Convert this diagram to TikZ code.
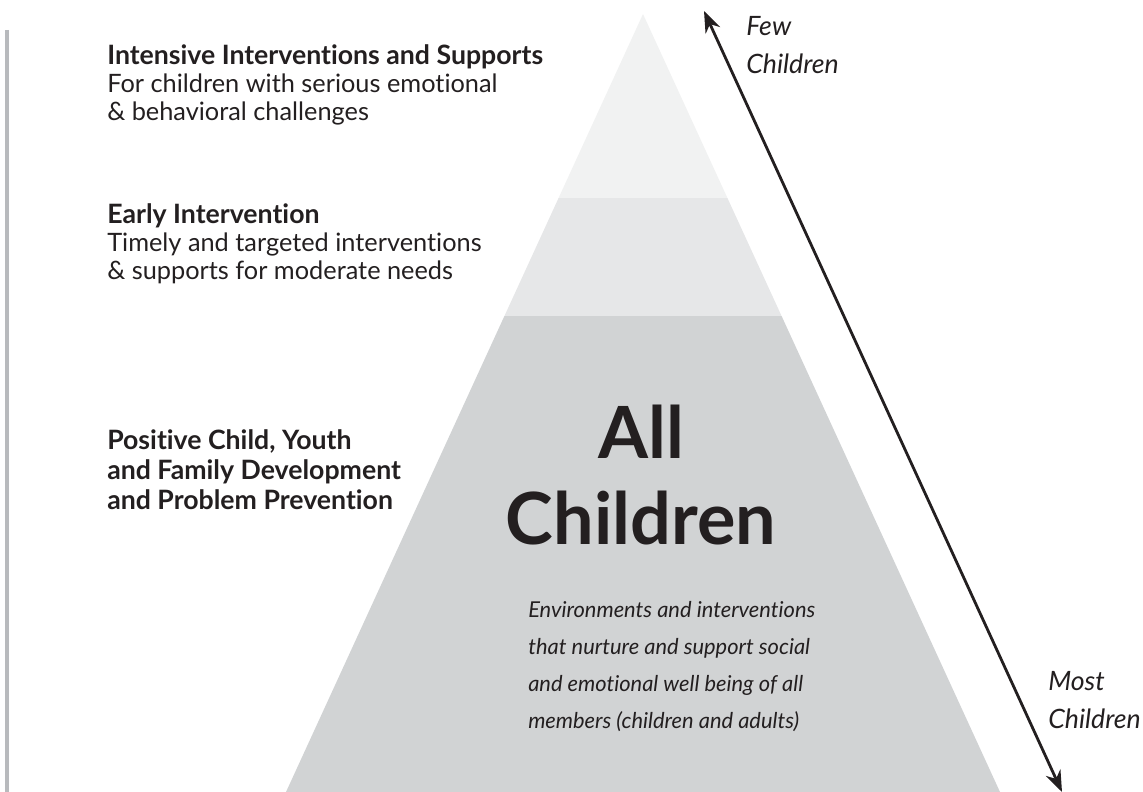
\documentclass[tikz,border=0pt]{standalone}
\usepackage{fontspec}
\setmainfont{Lato}[Ligatures=NoCommon]
\usetikzlibrary{arrows.meta}
\definecolor{ink}{HTML}{231F20}
\definecolor{tierone}{HTML}{F1F2F2}
\definecolor{tiertwo}{HTML}{E6E7E8}
\definecolor{tierthree}{HTML}{D1D3D4}
\definecolor{rule}{HTML}{B8BABD}
\newcommand\tiertitle[1]{{\fontsize{20}{21}\selectfont\bfseries #1}}
\tikzset{
	label/.style={anchor=north west,inner sep=0pt,align=left,text=ink,font=\fontsize{19}{21}\selectfont},
	side/.style={anchor=north west,inner sep=0pt,align=left,text=ink,font=\fontsize{16.4}{27.75}\selectfont\itshape},
}
\begin{document}
\begin{tikzpicture}[x=0.75pt,y=-0.75pt]
	\useasboundingbox (0,0) rectangle (1143,792);
	% rand links
	\draw[rule,line width=2.3pt] (7,30) -- (7,792);
	% pyramide
	\coordinate (apex) at (643,14);
	\coordinate (bl) at (286,792);
	\coordinate (br) at (1000,792);
	\begin{scope}
	\clip (apex) -- (bl) -- (br) -- cycle;
	\fill[tierone] (0,0) rectangle (1143,198);
	\fill[tiertwo] (0,198) rectangle (1143,316);
	\fill[tierthree] (0,316) rectangle (1143,792);
	\end{scope}
	% pfeil
	\coordinate (few) at (704,11);
	\coordinate (most) at (1062,792);
	\draw[ink,line width=2.1pt,<->,>={Stealth[length=16pt,width=12pt]}] (few) -- (most);
	% texte links
	\node[label] (intens) at (107,44) {\tiertitle{Intensive Interventions and Supports}\\For children with serious emotional\\\& behavioral challenges};
	\node[label] (early) at (107,203) {\tiertitle{Early Intervention}\\Timely and targeted interventions\\\& supports for moderate needs};
	\node[label,font=\fontsize{20}{22.5}\selectfont\bfseries] (positive) at (107,429) {Positive Child, Youth\\and Family Development\\and Problem Prevention};
	% mitte
	\node[anchor=north,inner sep=0pt,align=center,text=ink,font=\fontsize{54}{64.5}\selectfont\bfseries] (all) at (641,405) {All\\Children};
	\node[side] (environ) at (528,601) {Environments and interventions\\that nurture and support social\\and emotional well being of all\\members (children and adults)};
	% rechts
	\node[side,font=\fontsize{20}{28.5}\selectfont\itshape] (fewlabel) at (746,16.5) {Few\\Children};
	\node[side,font=\fontsize{20}{28.5}\selectfont\itshape] (mostlabel) at (1048,671.5) {Most\\Children};
\end{tikzpicture}
\end{document}
